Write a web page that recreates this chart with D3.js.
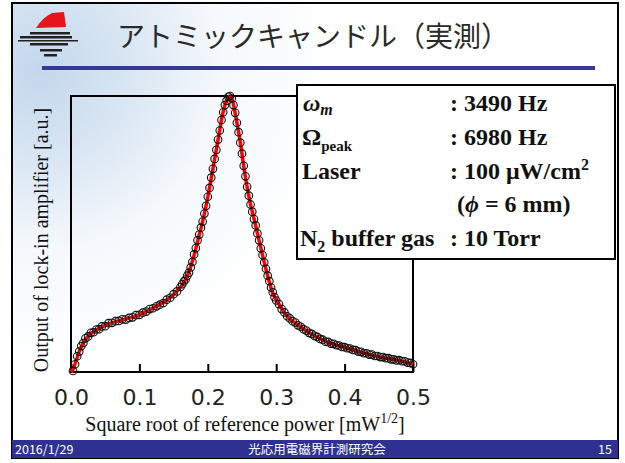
<!DOCTYPE html>
<html>
<head>
<meta charset="utf-8">
<script src="https://cdn.jsdelivr.net/npm/d3@7"></script>
<style>
  body { margin: 0; background: #fff; }
</style>
</head>
<body>
<script>
// measured points (sqrt of reference power, lock-in output normalised)
const sqrtPower = [
  0.003,0.006,0.009,0.012,0.015,0.018,0.021,0.025,0.029,0.033,0.037,0.041,0.045,0.050,0.055,0.060,0.065,0.070,
  0.075,0.080,0.085,0.090,0.095,0.100,0.105,0.110,0.115,0.120,0.125,0.130,0.135,0.140,0.145,0.150,0.155,0.160,
  0.1625,0.165,0.1675,0.170,0.1725,0.175,0.1775,0.180,0.1825,0.185,0.1875,0.190,0.1925,0.195,0.1975,0.200,
  0.2025,0.205,0.2075,0.210,0.2125,0.215,0.2175,0.220,0.2225,0.225,0.2275,0.230,0.2325,0.235,0.2375,0.240,
  0.2425,0.245,0.2475,0.250,0.2525,0.255,0.2575,0.260,0.2625,0.265,0.2675,0.270,0.2725,0.275,0.2775,0.280,
  0.2825,0.285,0.2875,0.290,0.2925,0.295,0.2975,0.300,
  0.304,0.308,0.312,0.316,0.320,0.324,0.328,0.332,0.336,0.340,0.344,0.348,0.352,0.356,0.360,0.364,0.368,
  0.372,0.376,0.380,0.384,0.388,0.392,0.396,0.400,0.404,0.408,0.412,0.416,0.420,0.424,0.428,0.432,0.436,
  0.440,0.444,0.448,0.452,0.456,0.460,0.464,0.468,0.472,0.476,0.480,0.484,0.488,0.492,0.496,0.500
];
const lockIn = [
  0.004,0.028,0.057,0.074,0.094,0.105,0.122,0.129,0.142,0.144,0.154,0.155,0.165,0.166,0.177,0.178,0.184,0.185,
  0.191,0.190,0.196,0.198,0.206,0.207,0.215,0.219,0.228,0.231,0.238,0.244,0.250,0.262,0.269,0.282,0.292,0.308,
  0.318,0.328,0.335,0.349,0.360,0.379,0.399,0.426,0.449,0.477,0.498,0.523,0.545,0.574,0.602,0.635,
  0.667,0.704,0.736,0.772,0.805,0.842,0.875,0.913,0.941,0.967,0.983,0.997,1.000,0.991,0.967,0.939,
  0.903,0.869,0.831,0.791,0.747,0.709,0.671,0.639,0.607,0.581,0.554,0.531,0.502,0.477,0.448,0.424,
  0.397,0.374,0.349,0.329,0.306,0.289,0.271,0.259,
  0.246,0.228,0.216,0.202,0.194,0.184,0.179,0.169,0.164,0.155,0.150,0.142,0.138,0.131,0.127,0.120,0.117,
  0.110,0.109,0.103,0.102,0.097,0.096,0.091,0.090,0.086,0.085,0.080,0.079,0.074,0.073,0.068,0.068,0.063,
  0.063,0.058,0.058,0.054,0.054,0.050,0.050,0.046,0.046,0.042,0.043,0.039,0.039,0.034,0.033,0.028
];

// fitted curve (red)
const fitPower = [0.000,0.003,0.007,0.013,0.019,0.025,0.033,0.042,0.057,0.072,0.085,0.100,0.120,0.140,0.150,0.160,
  0.170,0.178,0.186,0.193,0.200,0.208,0.215,0.222,0.228,0.2325,0.237,0.241,0.247,0.254,0.262,0.268,0.275,0.281,
  0.288,0.295,0.303,0.310,0.320,0.330,0.342,0.354,0.374,0.404,0.423,0.452,0.477,0.500];
const fitLockIn = [0.000,0.010,0.038,0.080,0.110,0.130,0.146,0.159,0.176,0.187,0.195,0.208,0.232,0.261,0.281,0.307,
  0.348,0.406,0.482,0.551,0.634,0.743,0.841,0.938,0.986,1.000,0.975,0.924,0.841,0.721,0.612,0.551,0.476,0.413,
  0.344,0.286,0.250,0.222,0.192,0.174,0.152,0.134,0.109,0.087,0.072,0.054,0.043,0.028];

const xTicks = [0.0, 0.1, 0.2, 0.3, 0.4, 0.5];
const titleText = 'アトミックキャンドル（実測）';
const xLabel = 'Square root of reference power [mW';
const yLabel = 'Output of lock-in amplifier [a.u.]';
const footerText = ['2016/1/29', '光応用電磁界計測研究会', '15'];

const W = 625, H = 463;
const plot = { left: 71, right: 413, top: 96, bottom: 372 };
const serif = '"Liberation Serif", "Times New Roman", serif';

const svg = d3.select('body').append('svg')
  .attr('width', W)
  .attr('height', H);

// slide background
const defs = svg.append('defs');
const grad = defs.append('radialGradient')
  .attr('id', 'bg')
  .attr('gradientUnits', 'userSpaceOnUse')
  .attr('cx', 40).attr('cy', 70).attr('r', 300);
grad.append('stop').attr('offset', 0).attr('stop-color', '#c3d7ec');
grad.append('stop').attr('offset', 0.3).attr('stop-color', '#d9e6f3');
grad.append('stop').attr('offset', 0.6).attr('stop-color', '#f5f8fc');
grad.append('stop').attr('offset', 1).attr('stop-color', '#ffffff');

svg.append('rect')
  .attr('x', 12).attr('y', 3)
  .attr('width', 606).attr('height', 455)
  .attr('fill', 'url(#bg)')
  .attr('stroke', '#000')
  .attr('stroke-width', 2);

// logo
const logo = svg.append('g');
logo.append('path')
  .attr('d', 'M36,28 Q42,18 52,13 L64,12 L66,27 Z')
  .attr('fill', '#e8141b');
[[30, 32, 40, 2.5], [20, 36, 52, 2.5], [18, 40, 60, 1.5], [30, 43, 38, 2.5], [40, 49, 22, 2.5], [44, 54, 13, 2.5]].forEach(r => {
  logo.append('rect').attr('x', r[0]).attr('y', r[1]).attr('width', r[2]).attr('height', r[3]).attr('fill', '#222');
});

// title
svg.append('text')
  .attr('x', 117).attr('y', 47)
  .attr('font-family', '"Noto Sans CJK JP", sans-serif')
  .attr('font-size', 28)
  .attr('fill', '#2a2a2a')
  .text(titleText);

svg.append('rect')
  .attr('x', 42).attr('y', 66)
  .attr('width', 553).attr('height', 4)
  .attr('fill', '#363896');

// scales
const x = d3.scaleLinear().domain([0, 0.5]).range([plot.left, plot.right]);
const y = d3.scaleLinear().domain([0, 1]).range([plot.bottom, plot.top]);

// x axis
const xAxis = svg.append('g')
  .attr('transform', 'translate(0,' + plot.bottom + ')')
  .call(d3.axisBottom(x)
    .tickValues(xTicks)
    .tickFormat(d3.format('.1f'))
    .tickSizeInner(-8)
    .tickSizeOuter(0)
    .tickPadding(17));
xAxis.select('.domain').remove();
xAxis.selectAll('.tick line').attr('stroke', '#000').attr('stroke-width', 2);
xAxis.selectAll('.tick text')
  .attr('font-family', '"DejaVu Sans", sans-serif')
  .attr('font-size', 22)
  .attr('fill', '#222');

// frame
svg.append('rect')
  .attr('x', plot.left).attr('y', plot.top)
  .attr('width', plot.right - plot.left)
  .attr('height', plot.bottom - plot.top)
  .attr('fill', 'none')
  .attr('stroke', '#000')
  .attr('stroke-width', 2);

// fit line
const fitLine = d3.line()
  .x(d => x(d[0]))
  .y(d => y(d[1]))
  .curve(d3.curveMonotoneX);

svg.append('path')
  .datum(fitPower.map((p, i) => [p, fitLockIn[i]]))
  .attr('d', fitLine)
  .attr('fill', 'none')
  .attr('stroke', '#ff0000')
  .attr('stroke-width', 3.5);

// measured circles
svg.append('g')
  .selectAll('circle')
  .data(sqrtPower.map((p, i) => ({ p: p, v: lockIn[i] })))
  .enter().append('circle')
  .attr('cx', d => x(d.p))
  .attr('cy', d => y(d.v))
  .attr('r', 3.8)
  .attr('fill', 'none')
  .attr('stroke', '#111')
  .attr('stroke-width', 1.1);

// axis titles
const xt = svg.append('text')
  .attr('x', 245).attr('y', 431)
  .attr('text-anchor', 'middle')
  .attr('font-family', serif)
  .attr('font-size', 20)
  .attr('fill', '#111');
xt.append('tspan').text(xLabel);
xt.append('tspan').attr('font-size', 14).attr('dy', -8).text('1/2');
xt.append('tspan').attr('dy', 8).text(']');

svg.append('text')
  .attr('transform', 'translate(48,240) rotate(-90)')
  .attr('text-anchor', 'middle')
  .attr('font-family', serif)
  .attr('font-size', 20)
  .attr('fill', '#111')
  .text(yLabel);

// parameter box
svg.append('rect')
  .attr('x', 297).attr('y', 85)
  .attr('width', 318).attr('height', 174)
  .attr('fill', '#fff')
  .attr('stroke', '#000')
  .attr('stroke-width', 2);

const box = svg.append('g')
  .attr('font-family', serif)
  .attr('font-size', 24)
  .attr('font-weight', 'bold')
  .attr('fill', '#111');

const rows = [111, 145, 179, 212, 246];

let t = box.append('text').attr('x', 303).attr('y', rows[0]);
t.append('tspan').attr('font-style', 'italic').text('ω');
t.append('tspan').attr('font-style', 'italic').attr('font-size', 16).attr('dy', 4).text('m');
box.append('text').attr('x', 450).attr('y', rows[0]).text(': 3490 Hz');

t = box.append('text').attr('x', 302).attr('y', rows[1]);
t.append('tspan').text('Ω');
t.append('tspan').attr('font-size', 15).attr('dy', 6).text('peak');
box.append('text').attr('x', 450).attr('y', rows[1]).text(': 6980 Hz');

box.append('text').attr('x', 302).attr('y', rows[2]).text('Laser');
t = box.append('text').attr('x', 450).attr('y', rows[2]);
t.append('tspan').text(': 100 μW/cm');
t.append('tspan').attr('font-size', 16).attr('dy', -9).text('2');

t = box.append('text').attr('x', 457).attr('y', rows[3]);
t.append('tspan').text('(');
t.append('tspan').attr('font-style', 'italic').text('ϕ');
t.append('tspan').text(' = 6 mm)');

t = box.append('text').attr('x', 300).attr('y', rows[4]);
t.append('tspan').text('N');
t.append('tspan').attr('font-size', 16).attr('dy', 6).text('2');
t.append('tspan').attr('dy', -6).text(' buffer gas');
box.append('text').attr('x', 450).attr('y', rows[4]).text(': 10 Torr');

// footer
svg.append('rect')
  .attr('x', 12).attr('y', 440)
  .attr('width', 606).attr('height', 18)
  .attr('fill', '#2e3192');

const foot = svg.append('g')
  .attr('font-family', '"Noto Sans CJK JP", sans-serif')
  .attr('font-size', 12.5)
  .attr('fill', '#fff');
foot.append('text').attr('x', 15).attr('y', 454).text(footerText[0]);
foot.append('text').attr('x', 317).attr('y', 454).attr('text-anchor', 'middle').text(footerText[1]);
foot.append('text').attr('x', 612).attr('y', 454).attr('text-anchor', 'end').text(footerText[2]);
</script>
</body>
</html>
